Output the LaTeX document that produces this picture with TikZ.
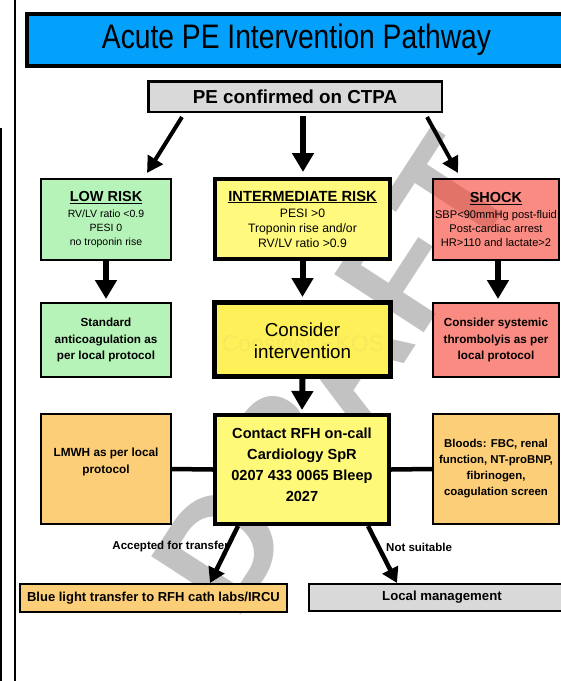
\documentclass[tikz,border=0pt]{standalone}
\usepackage{fontspec}
\setmainfont{Liberation Sans}
\usetikzlibrary{arrows.meta}
\definecolor{titleblue}{RGB}{3,161,252}
\definecolor{pegray}{RGB}{217,217,217}
\definecolor{riskgreen}{RGB}{182,243,184}
\definecolor{yellowA}{RGB}{255,250,125}
\definecolor{yellowB}{RGB}{253,240,88}
\definecolor{yellowC}{RGB}{255,249,122}
\definecolor{ghost}{RGB}{246,233,92}
\definecolor{shockred}{RGB}{247,63,47}
\definecolor{boxorange}{RGB}{253,206,120}
\definecolor{wmgray}{RGB}{194,194,194}
\tikzset{
  box/.style={draw=black, line width=2pt, align=center, inner sep=0pt, text=black},
  shockbox/.style={box, fill=shockred, fill opacity=0.6, text opacity=1},
  arrV/.style={line width=6pt, -{Triangle[length=19pt,width=21pt]}},
  arrD/.style={line width=4pt, -{Triangle[length=16pt,width=17pt]}},
  arrB/.style={line width=4.5pt, -{Triangle[length=15pt,width=17pt]}},
  link/.style={line width=4.5pt},
  lab/.style={inner sep=0pt, font=\fontsize{11.5}{13}\selectfont\bfseries},
}
\begin{document}
\begin{tikzpicture}[x=1pt,y=-1pt]
\useasboundingbox (0,0) rectangle (561,681);
\fill[white] (0,0) rectangle (561,681);

% left frame lines
\draw[line width=2.5pt] (15,-5) -- (15,690);
\draw[line width=2pt] (1,128) -- (1,690);

% watermark
\node[rotate=57, text=wmgray, inner sep=0pt, font=\fontsize{155}{155}\selectfont\bfseries] (wm) at (334,374) {DRAFT};

% title
\node[box, fill=titleblue, line width=4pt, minimum width=551pt, minimum height=52pt,
      font=\fontsize{34}{40}\selectfont] (title) at (302.5,40)
      {\scalebox{0.83}[1]{Acute PE Intervention Pathway}\hspace*{12pt}};

% PE confirmed
\node[box, fill=pegray, line width=2.5pt, minimum width=293.5pt, minimum height=30.5pt,
      font=\fontsize{18.8}{22}\selectfont\bfseries] (pe) at (295,96.5) {PE confirmed on CTPA};

% row 1
\node[box, fill=riskgreen, minimum width=130pt, minimum height=81pt,
      font=\fontsize{10.5}{14}\selectfont] (low) at (106,219.5)
      {{\fontsize{14.5}{14}\selectfont\bfseries\underline{LOW RISK}}\\[2pt]
       RV/LV ratio <0.9\\ PESI 0\\ no troponin rise};
\node[box, fill=yellowA, line width=4pt, minimum width=175pt, minimum height=80pt,
      font=\fontsize{12.2}{15}\selectfont] (mid) at (302.5,219)
      {{\fontsize{14.7}{15}\selectfont\bfseries\underline{INTERMEDIATE RISK}}\\[1pt]
       PESI >0\\ Troponin rise and/or\\ RV/LV ratio >0.9};
\node[shockbox, minimum width=126pt, minimum height=81pt,
      font=\fontsize{11.1}{14}\selectfont] (shock) at (496,219.5)
      {{\fontsize{14.5}{14}\selectfont\bfseries\underline{SHOCK}}\\[2pt]
       SBP<90mmHg post-fluid\\ Post-cardiac arrest\\ HR>110 and lactate>2};

% row 2
\node[box, fill=riskgreen, minimum width=130pt, minimum height=74pt,
      font=\fontsize{11.7}{16.5}\selectfont\bfseries] (std) at (106,340)
      {Standard\\ anticoagulation as\\ per local protocol};
\node[box, fill=yellowB, line width=5pt, minimum width=176pt, minimum height=74pt] (consider) at (302.5,339.5) {};
\node[text=ghost, inner sep=0pt, font=\fontsize{23}{25}\selectfont] (ghosttext) at (303,343) {Consider EKOS};
\node[align=center, inner sep=0pt, font=\fontsize{18.8}{21.5}\selectfont] (considertext) at (302.5,341) {Consider\\ intervention};
\node[shockbox, minimum width=126pt, minimum height=74pt,
      font=\fontsize{11.7}{16.5}\selectfont\bfseries] (systemic) at (496,340)
      {Consider systemic\\ thrombolyis as per\\ local protocol};

% row 3
\node[box, fill=boxorange, minimum width=130pt, minimum height=110pt] (lmwh) at (106,469) {};
\node[align=center, inner sep=0pt, font=\fontsize{11.8}{17}\selectfont\bfseries] (lmwhtext) at (106,461.5) {LMWH as per local\\ protocol};
\node[box, fill=yellowC, line width=4pt, minimum width=174pt, minimum height=109pt] (contact) at (302,469.5) {};
\node[align=center, inner sep=0pt, font=\fontsize{14.6}{21}\selectfont\bfseries] (contacttext) at (302,464.5)
      {Contact RFH on-call\\ Cardiology SpR\\ 0207 433 0065 Bleep\\ 2027};
\node[box, fill=boxorange, minimum width=126pt, minimum height=110pt,
      font=\fontsize{11.4}{16}\selectfont\bfseries] (bloods) at (496,469)
      {Bloods: FBC, renal\\ function, NT-proBNP,\\ fibrinogen,\\ coagulation screen};

% row 4
\node[box, fill=boxorange, minimum width=267pt, minimum height=28pt,
      font=\fontsize{13}{15}\selectfont\bfseries] (blue) at (153.5,598)
      {Blue light transfer to RFH cath labs/IRCU};
\node[box, fill=pegray, minimum width=266pt, minimum height=27pt,
      font=\fontsize{13.2}{15}\selectfont\bfseries] (local) at (442,597.5)
      {Local management};

% labels
\node[lab, anchor=east] (acc) at (229,547) {Accepted for transfer};
\node[lab, anchor=west] (ns) at (386,547) {Not suitable};

% connectors
\draw[arrD] ([xshift=-113pt,yshift=-4pt]pe.south) -- ([xshift=41pt,yshift=5pt]low.north);
\draw[arrV] ([xshift=8pt,yshift=-3pt]pe.south) -- ([xshift=0.5pt,yshift=5pt]mid.north);
\draw[arrD] ([xshift=132pt,yshift=-4pt]pe.south) -- ([xshift=-38pt,yshift=5pt]shock.north);

\draw[arrV] (low.south) -- ([yshift=3pt]std.north);
\draw[arrV] (mid.south) -- ([yshift=3pt]consider.north);
\draw[arrV] ([xshift=2pt]shock.south) -- ([xshift=2pt,yshift=3pt]systemic.north);
\draw[arrV] (consider.south) -- ([yshift=3pt]contact.north);

\draw[link] (lmwh.east) -- (contact.west);
\draw[link] (contact.east) -- (bloods.west);

\draw[arrB] ([xshift=-64pt]contact.south) -- ([xshift=56.5pt]blue.north);
\draw[arrB] ([xshift=66pt]contact.south) -- ([xshift=-45pt]local.north);
\end{tikzpicture}
\end{document}
